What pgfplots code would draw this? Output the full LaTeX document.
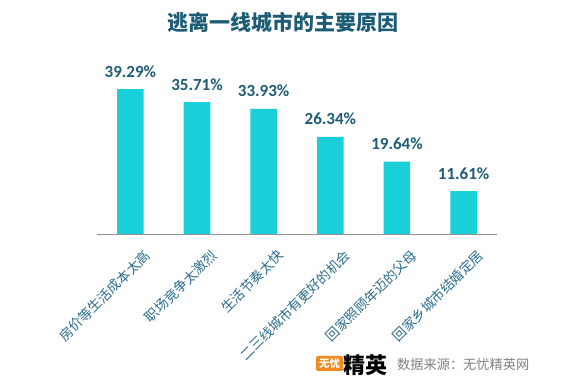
\documentclass[border=0pt]{standalone}
\usepackage{pgfplots}
\pgfplotsset{compat=1.18}
\usepackage{fontspec}
\setmainfont{Carlito}
\newfontfamily\cjk{Noto Sans CJK SC}
\definecolor{barc}{HTML}{19CFD8}
\definecolor{titc}{HTML}{1D5C74}
\definecolor{tickc}{HTML}{2A6C8C}
\definecolor{srcc}{HTML}{7F7F7F}
\definecolor{logoor}{HTML}{F08A1C}
\begin{document}
\begin{tikzpicture}[x=1pt,y=1pt]
\useasboundingbox (0,0) rectangle (565,379);
\node[font=\cjk\bfseries\fontsize{21}{24}\selectfont, text=titc] at (283,357) {逃离一线城市的主要原因};
\begin{axis}[
  at={(97pt,145pt)}, anchor=south west,
  scale only axis, width=400pt, height=166.05pt,
  xmin=-0.5, xmax=5.5, ymin=0, ymax=45,
  axis x line=bottom, axis y line=none,
  x axis line style={draw=gray!85, line width=0.8pt, -},
  xtick={0,1,2,3,4,5},
  xticklabels={房价等生活成本太高,职场竞争太激烈,生活节奏太快,二三线城市有更好的机会,回家照顾年迈的父母,回家乡城市结婚定居},
  major tick length=0pt,
  xticklabel style={font=\cjk\fontsize{13.5}{14}\selectfont, text=tickc, rotate=45, anchor=north east, inner sep=0pt, xshift=-1pt, yshift=-19pt},
  ybar, bar width=26.5pt,
  nodes near coords={\pgfmathprintnumber[fixed,precision=2,fixed zerofill,assume math mode=true]{\pgfplotspointmeta}\%},
  nodes near coords style={font=\bfseries\fontsize{17}{18}\selectfont, text=titc, anchor=base, inner sep=0pt, yshift=12pt},
  clip=false,
]
\addplot[fill=barc, draw=none] coordinates {(0,39.29) (1,35.71) (2,33.93) (3,26.34) (4,19.64) (5,11.61)};
\end{axis}
\node[fill=logoor, rounded corners=2pt, inner sep=1pt, minimum width=27pt, minimum height=15pt, text=white, font=\cjk\bfseries\fontsize{10.5}{11}\selectfont] at (329.5,15.5) {无忧};
\node[anchor=west, inner sep=0pt, font=\cjk\bfseries\fontsize{22}{24}\selectfont] at (343,14) {精英};
\node[anchor=west, inner sep=0pt, text=srcc, font=\cjk\fontsize{13.2}{14}\selectfont] at (397,14.5) {数据来源：无忧精英网};
\end{tikzpicture}
\end{document}
